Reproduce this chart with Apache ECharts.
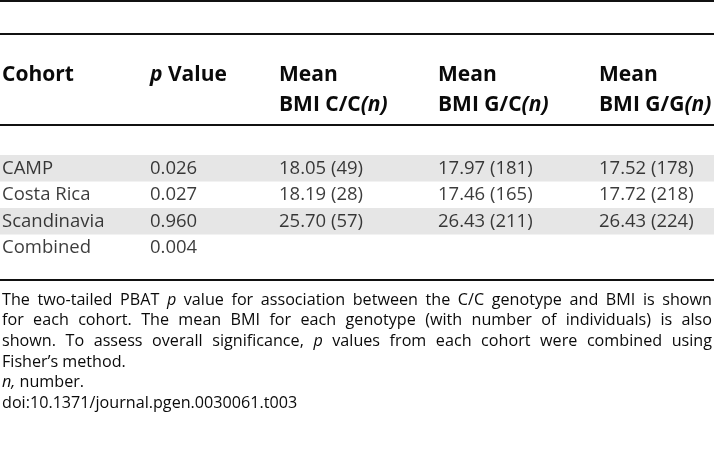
<!DOCTYPE html>
<html><head><meta charset="utf-8">
<script src="https://cdn.jsdelivr.net/npm/echarts@6/dist/echarts.min.js"></script>
<style>html,body{margin:0;padding:0;background:#fff}#c{width:714px;height:452px}</style>
</head><body><div id="c"></div>
<script>
// ---- data ----
var cohorts = ['CAMP', 'Costa Rica', 'Scandinavia', 'Combined'];
var pValues = ['0.026', '0.027', '0.960', '0.004'];
var bmiCC = ['18.05 (49)', '18.19 (28)', '25.70 (57)', ''];
var bmiGC = ['17.97 (181)', '17.46 (165)', '26.43 (211)', ''];
var bmiGG = ['17.52 (178)', '17.72 (218)', '26.43 (224)', ''];
var rowShade = [1, 0, 1, 0];
var headerLine1 = ['Cohort', '{i|p} Value', 'Mean', 'Mean', 'Mean'];
var headerLine2 = ['', '', 'BMI C/C{i|(n)}', 'BMI G/C{i|(n)}', 'BMI G/G{i|(n)}'];
var footLines = [
  {words: 'The two-tailed PBAT *p value for association between the C/C genotype and BMI is shown', justify: true},
  {words: 'for each cohort. The mean BMI for each genotype (with number of individuals) is also', justify: true},
  {words: 'shown. To assess overall significance, *p values from each cohort were combined using', justify: true},
  {words: 'Fisher\u2019s method.', justify: false},
  {words: '*n, number.', justify: false},
  {words: 'doi:10.1371/journal.pgen.0030061.t003', justify: false}
];

// ---- layout ----
var colX = [2, 150, 279, 438, 599];
var columns = [cohorts, pValues, bmiCC, bmiGC, bmiGG];
var W = 714;
var FF = '"Open Sans", sans-serif';
var INK = '#0a0a0a';

var chart = echarts.init(document.getElementById('c'), null, {renderer: 'canvas'});

var series = [{
  type: 'bar', xAxisIndex: 1, yAxisIndex: 0, silent: true,
  data: rowShade, barWidth: '100%', itemStyle: {color: '#e6e6e6'}, animation: false
}];
columns.forEach(function (col, ci) {
  series.push({
    type: 'scatter', xAxisIndex: 0, yAxisIndex: 0, symbolSize: 0, silent: true, animation: false,
    data: cohorts.map(function (r, ri) { return [colX[ci], r, col[ri]]; }),
    label: {
      show: true, position: 'right', distance: 0,
      formatter: function (p) { return p.data[2]; },
      fontFamily: FF, fontSize: 18.5, color: INK
    }
  });
});

var graphics = [];
function hline(y, h) {
  graphics.push({type: 'rect', shape: {x: 0, y: y, width: W, height: h}, style: {fill: '#111'}, silent: true});
}
hline(0, 2); hline(33, 2); hline(124, 2); hline(279, 2);

var richHdr = {i: {fontStyle: 'italic', fontWeight: 'bold', fontFamily: FF, fontSize: 21, fill: INK}};
colX.forEach(function (x, ci) {
  [headerLine1[ci], headerLine2[ci]].forEach(function (t, li) {
    if (!t) return;
    graphics.push({type: 'text', x: x, y: 75 + li * 30, silent: true,
      style: {text: t, font: 'bold 21px ' + FF, fill: INK, textVerticalAlign: 'middle', rich: richHdr}});
  });
});

// footnote, slightly condensed & justified
var K = 0.95, FS = 17;
var cv = document.createElement('canvas').getContext('2d');
function meas(w, it) { cv.font = (it ? 'italic ' : '') + FS + 'px ' + FF; return cv.measureText(w).width * K; }
var spaceW = meas(' ', false);
footLines.forEach(function (ln, li) {
  var words = ln.words.split(' ').map(function (w) {
    var it = w.charAt(0) === '*'; if (it) w = w.slice(1);
    return {t: w, it: it, w: 0};
  });
  words.forEach(function (w) { w.w = meas(w.t, w.it); });
  var sum = words.reduce(function (a, w) { return a + w.w; }, 0);
  var gap = ln.justify ? Math.max(spaceW * 0.6, (710 - sum) / (words.length - 1)) : spaceW;
  var x = 2, y = 300 + li * 20.6;
  words.forEach(function (w) {
    graphics.push({type: 'text', x: x, y: y, scaleX: K, silent: true,
      style: {text: w.t, font: (w.it ? 'italic ' : '') + FS + 'px ' + FF, fill: INK, textVerticalAlign: 'middle'}});
    x += w.w + gap;
  });
});

chart.setOption({
  animation: false,
  grid: {left: 0, right: 0, top: 155, height: 106},
  xAxis: [
    {type: 'value', min: 0, max: W, show: false},
    {type: 'value', min: 0, max: 1, show: false}
  ],
  yAxis: [{type: 'category', data: cohorts, inverse: true, show: false}],
  series: series,
  graphic: graphics
});
</script></body></html>
